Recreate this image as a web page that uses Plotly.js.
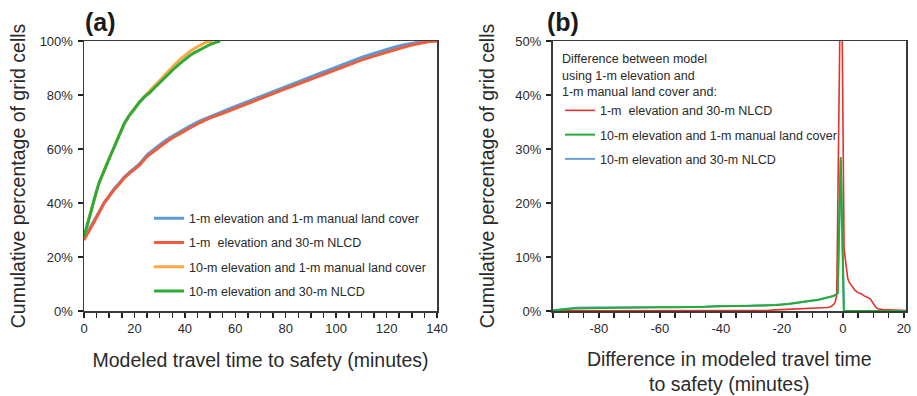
<!DOCTYPE html>
<html>
<head>
<meta charset="utf-8">
<script src="https://cdn.plot.ly/plotly-3.0.1.min.js"></script>
<style>html,body{margin:0;padding:0;background:#fff;}#chart{width:917px;height:396px;}</style>
</head>
<body>
<div id="chart"></div>
<script>
// ---------- Panel (a): cumulative percentage vs travel time ----------
const a_blue_x = [0,2,4,6,8,10,12,14,16,18,20,22,25,28,31,34,38,42,46,50,54,58,62,66,70,74,78,82,86,90,94,98,102,106,110,114,118,122,126,130,134,137,140];
const a_blue_y = [26.8,30,33.3,36.8,40.2,42.8,45.3,47.4,49.6,51.3,52.9,54.5,57.8,60.1,62.2,64.2,66.5,68.5,70.4,72.1,73.5,75,76.5,78,79.5,80.9,82.3,83.7,85.2,86.7,88.2,89.6,91.1,92.5,93.9,95.1,96.3,97.4,98.4,99.2,99.8,100,100];
const a_red_x = [0,2,4,6,8,10,12,14,16,18,20,22,25,28,31,34,38,42,46,50,54,58,62,66,70,74,78,82,86,90,94,98,102,106,110,114,118,122,126,130,134,137,140];
const a_red_y = [26.3,29.5,33,36.5,40,42.5,45,47,49.3,51,52.5,54,57.2,59.5,61.5,63.5,65.8,67.8,69.8,71.5,72.8,74.3,75.8,77.3,78.8,80.2,81.6,83,84.4,85.9,87.4,88.8,90.2,91.6,92.9,94.1,95.3,96.4,97.5,98.5,99.3,99.8,100];
const a_orange_x = [0,1,2,3,4,5,6,7,8,10,12,14,16,18,20,22,24,26,28,30,32,34,36,38,40,42,44,46,48,51];
const a_orange_y = [27.5,31,35,38.5,41.5,44.5,47.5,50,52,56.5,61,65.5,69.5,72.5,75,77.4,79.5,81.3,83.4,85.4,87.5,89.5,91.3,93.1,94.7,96.1,97.4,98.5,99.4,100];
const a_green_x = [0,1,2,3,4,5,6,7,8,10,12,14,16,18,20,22,24,26,28,30,32,34,36,38,40,42,44,46,48,50,52,54];
const a_green_y = [27.5,31,35,38.5,41.5,44.5,47.5,50,52,56.5,61,65.5,69.5,72.5,75,77.3,79.3,80.8,82.7,84.5,86.5,88.4,90,91.6,93.2,94.6,95.8,96.8,97.8,98.7,99.4,100];

// ---------- Panel (b): difference in travel time ----------
const b_red_x = [-95,-90,-80,-60,-40,-30,-25,-22,-18,-14,-10,-8,-6,-5,-4,-3.5,-3,-2.5,-2.0,-0.9,-0.3,0.4,0.8,1.2,1.6,2.1,3,4,5,6,7,8,8.9,9.5,10.2,10.8,11.5,13,15,17,19,21];
const b_red_y = [0.05,0.05,0.05,0.05,0.05,0.08,0.1,0.2,0.3,0.35,0.4,0.45,0.55,0.65,0.8,0.95,1.2,1.7,3.0,56,56,11.5,9.5,7.5,6,5.3,4.5,3.8,3.4,3.2,2.8,2.5,2.3,1.8,1.1,0.7,0.4,0.25,0.2,0.2,0.15,0.1];
const b_green_x = [-95,-92,-88,-84,-80,-75,-70,-65,-60,-55,-50,-45,-42,-40,-35,-30,-25,-22,-18,-15,-12,-10,-8,-6,-4,-3,-2.2,-1.7,-0.7,0.3,5,10,15,21];
const b_green_y = [0.1,0.25,0.45,0.5,0.55,0.57,0.6,0.62,0.7,0.7,0.72,0.8,0.9,0.88,0.92,0.95,1.0,1.1,1.3,1.5,1.7,1.9,2.1,2.35,2.6,2.8,3.1,3.3,28.5,0,0,0,0,0];
const b_blue_x = [-95,-92,-88,-84,-80,-75,-70,-65,-60,-55,-50,-45,-42,-40,-35,-30,-25,-22,-18,-15,-12,-10,-8,-6,-4,-3,-2.2,-1.7,-0.7,0.4,5,10,15,21];
const b_blue_y = [0.12,0.35,0.6,0.65,0.65,0.62,0.63,0.64,0.7,0.7,0.72,0.8,0.88,0.88,0.92,0.95,1.0,1.1,1.3,1.5,1.7,1.9,2.1,2.35,2.6,2.8,3.1,3.3,28,0,0,0,0,0];
const b_tick_vals = [-80,-60,-40,-20,0,20];
const b_tick_text = ['-80','-60','-40','-20','0','20'];

const FONT = 'Liberation Sans, Arial, Helvetica, sans-serif';
const TXT = '#2a2a2a';

const traces = [
  {x:a_blue_x, y:a_blue_y, name:'1-m elevation and 1-m manual land cover', mode:'lines', line:{color:'#5b9bd5', width:3}, xaxis:'x', yaxis:'y', legend:'legend', legendgroup:'a1'},
  {x:a_red_x, y:a_red_y, name:'1-m\u00a0 elevation and 30-m NLCD', mode:'lines', line:{color:'#ef5b3b', width:3}, xaxis:'x', yaxis:'y', legend:'legend', legendgroup:'a2'},
  {x:a_orange_x, y:a_orange_y, name:'10-m elevation and 1-m manual land cover', mode:'lines', line:{color:'#f9a847', width:3}, xaxis:'x', yaxis:'y', legend:'legend', legendgroup:'a3'},
  {x:a_green_x, y:a_green_y, name:'10-m elevation and 30-m NLCD', mode:'lines', line:{color:'#2eaa36', width:3}, xaxis:'x', yaxis:'y', legend:'legend', legendgroup:'a4'},
  {x:b_blue_x, y:b_blue_y, name:'10-m elevation and 30-m NLCD', mode:'lines', line:{color:'#6a9fd4', width:2}, xaxis:'x2', yaxis:'y2', legend:'legend2', legendgroup:'b3', legendrank:3},
  {x:b_red_x, y:b_red_y, name:'1-m\u00a0 elevation and 30-m NLCD', mode:'lines', line:{color:'#e4312a', width:1.6}, xaxis:'x2', yaxis:'y2', legend:'legend2', legendgroup:'b1', legendrank:1},
  {x:b_green_x, y:b_green_y, name:'10-m elevation and 1-m manual land cover', mode:'lines', line:{color:'#24ad36', width:2}, xaxis:'x2', yaxis:'y2', legend:'legend2', legendgroup:'b2', legendrank:2}
];

const axBase = {
  showgrid:false, zeroline:false, showline:true, mirror:true,
  linecolor:'#3a3a3a', linewidth:1.5,
  ticks:'outside', ticklen:5, tickwidth:1.5, tickcolor:'#222',
  tickfont:{family:FONT, size:13, color:TXT}
};

const layout = {
  width:917, height:396,
  margin:{l:0, r:0, t:41, b:85},
  paper_bgcolor:'#fff', plot_bgcolor:'#fff',
  font:{family:FONT, color:TXT},
  showlegend:true,
  xaxis:Object.assign({}, axBase, {
    domain:[84/917, 437/917], range:[0,140], dtick:20, tick0:0,
    minor:{dtick:5, ticks:'outside', ticklen:5, tickwidth:1.5, tickcolor:'#222'},
    title:{text:'Modeled travel time to safety (minutes)', font:{family:FONT, size:19.5, color:TXT}, standoff:18}
  }),
  yaxis:Object.assign({}, axBase, {
    domain:[0,1], range:[0,100], dtick:20, ticksuffix:'%', anchor:'x', ticklabelstandoff:2,
    title:{text:'Cumulative percentage of grid cells', font:{family:FONT, size:19.5, color:TXT}, standoff:9}
  }),
  xaxis2:Object.assign({}, axBase, {
    domain:[552.5/917, 906/917], range:[-95.2,20.7], tickmode:'array', tickvals:b_tick_vals, ticktext:b_tick_text, anchor:'y2',
    minor:{dtick:5, tick0:0, ticks:'outside', ticklen:5, tickwidth:1.5, tickcolor:'#222'},
    title:{text:'Difference in modeled travel time<br>to safety (minutes)', font:{family:FONT, size:19.5, color:TXT}, standoff:17}
  }),
  yaxis2:Object.assign({}, axBase, {
    domain:[0,1], range:[0,50], dtick:10, ticksuffix:'%', anchor:'x2', ticklabelstandoff:2,
    title:{text:'Cumulative percentage of grid cells', font:{family:FONT, size:19.5, color:TXT}, standoff:15}
  }),
  legend:{
    x:149/917, y:(311-203.5)/270, xanchor:'left', yanchor:'top',
    bgcolor:'rgba(0,0,0,0)', borderwidth:0,
    font:{family:FONT, size:12.5, color:TXT}, tracegroupgap:5, traceorder:'grouped', itemwidth:30
  },
  legend2:{
    x:560/917, y:(311-47)/270, xanchor:'left', yanchor:'top',
    bgcolor:'rgba(0,0,0,0)', borderwidth:0,
    title:{text:'Difference between model<br>using 1-m elevation and<br>1-m manual land cover and:', side:'top', font:{family:FONT, size:12.5, color:TXT}},
    font:{family:FONT, size:12.5, color:TXT}, tracegroupgap:5, traceorder:'grouped', itemwidth:30
  },
  annotations:[
    {text:'<b>(a)</b>', xref:'paper', yref:'paper', x:83/917, y:(311-22)/270, xanchor:'left', yanchor:'middle', showarrow:false, font:{family:FONT, size:25, color:'#1a1a1a'}},
    {text:'<b>(b)</b>', xref:'paper', yref:'paper', x:545/917, y:(311-22)/270, xanchor:'left', yanchor:'middle', showarrow:false, font:{family:FONT, size:25, color:'#1a1a1a'}}
  ]
};

Plotly.newPlot('chart', traces, layout, {staticPlot:true, displayModeBar:false});
</script>
</body>
</html>
